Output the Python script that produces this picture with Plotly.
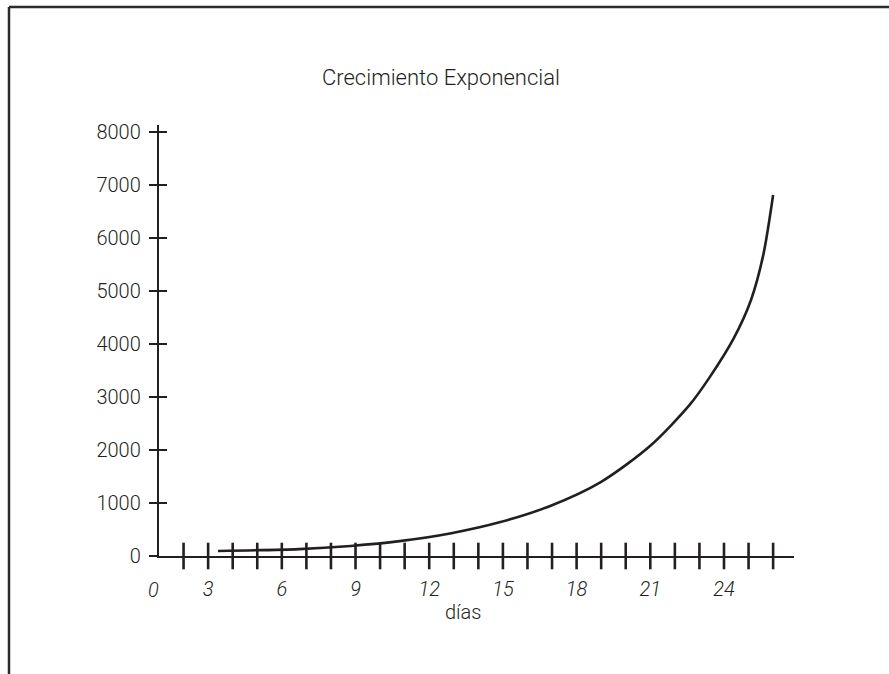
import plotly.graph_objects as go

# Curve readings: day vs population
days = [3.4, 6.7, 8.8, 10.8, 12.9, 14.9, 16.9, 19.0, 21.0, 22.6, 23.4, 24.4, 25.1, 25.6, 26.0]
values = [95, 130, 190, 280, 430, 640, 940, 1400, 2080, 2850, 3360, 4110, 4830, 5680, 6810]

# Axis ticks and labels
x_ticks = list(range(2, 27))
x_label_vals = [3, 6, 9, 12, 15, 18, 21, 24]
x_label_text = [str(v) for v in x_label_vals]
y_ticks = [0, 1000, 2000, 3000, 4000, 5000, 6000, 7000, 8000]
y_label_text = [str(v) for v in y_ticks]

title_text = "Crecimiento Exponencial"
x_title = "días"

INK = "#231f20"
FONT = "Roboto"

W, H = 889, 674
L, R, T, B = 159, 95, 125, 118
x_range = [1, 26.85]
y_range = [0, 8130]

fig = go.Figure()
fig.add_trace(go.Scatter(
    x=days, y=values, mode="lines",
    line=dict(color=INK, width=2.6, shape="spline", smoothing=0.8),
    hoverinfo="skip", showlegend=False,
))
# invisible trace on the secondary y axis so it renders its inside ticks
fig.add_trace(go.Scatter(
    x=[x_range[0]], y=[y_range[0]], yaxis="y2",
    mode="markers", marker=dict(opacity=0), hoverinfo="skip", showlegend=False,
))

tick_font = dict(family=FONT, size=20, color=INK, weight=300)

fig.update_layout(
    width=W, height=H,
    margin=dict(l=L, r=R, t=T, b=B, pad=0),
    paper_bgcolor="white", plot_bgcolor="white",
    title=dict(
        text=title_text, x=441 / W, y=1 - 77 / H,
        xanchor="center", yanchor="middle",
        font=dict(family=FONT, size=22, color=INK, weight=300),
    ),
    xaxis=dict(
        range=x_range, showgrid=False, zeroline=False,
        showline=True, linecolor=INK, linewidth=2,
        tickmode="array", tickvals=x_label_vals, ticktext=x_label_text,
        ticks="", ticklabelstandoff=14,
        tickfont=dict(tick_font, style="italic"),
    ),
    yaxis=dict(
        range=y_range, showgrid=False, zeroline=False,
        showline=True, linecolor=INK, linewidth=2.4,
        tickmode="array", tickvals=y_ticks, ticktext=y_label_text,
        ticks="outside", ticklen=8, tickwidth=2.4, tickcolor=INK,
        ticklabelstandoff=4,
        tickfont=tick_font,
    ),
    yaxis2=dict(
        range=y_range, overlaying="y", anchor="x", side="left",
        showgrid=False, zeroline=False, showline=False,
        tickmode="array", tickvals=y_ticks,
        ticks="inside", ticklen=8, tickwidth=2.4, tickcolor=INK,
        showticklabels=False,
    ),
)

# x-axis tick marks crossing the axis line
fig.add_trace(go.Scatter(
    x=x_ticks, y=[0] * len(x_ticks), mode="markers",
    marker=dict(symbol="line-ns", size=19, line=dict(color=INK, width=2.6)),
    hoverinfo="skip", showlegend=False, cliponaxis=False,
))

plot_w = W - L - R
plot_h = H - T - B

fig.add_annotation(
    text="0", xref="paper", yref="paper",
    x=(153 - L) / plot_w, y=-(590 - (H - B)) / plot_h,
    xanchor="center", yanchor="middle", showarrow=False,
    font=dict(tick_font, style="italic"),
)
fig.add_annotation(
    text=x_title, xref="paper", yref="paper",
    x=(463 - L) / plot_w, y=-(612 - (H - B)) / plot_h,
    xanchor="center", yanchor="middle", showarrow=False,
    font=tick_font,
)

# page frame (top and left edges)
frame = dict(color="#2b2b2b", width=2.5)
fig.add_shape(type="line", xref="paper", yref="paper",
              x0=(9 - L) / plot_w, x1=2.0,
              y0=((H - B) - 7) / plot_h, y1=((H - B) - 7) / plot_h, line=frame)
fig.add_shape(type="line", xref="paper", yref="paper",
              x0=(9 - L) / plot_w, x1=(9 - L) / plot_w,
              y0=-2.0, y1=((H - B) - 7) / plot_h, line=frame)

fig.write_html("out.html")
